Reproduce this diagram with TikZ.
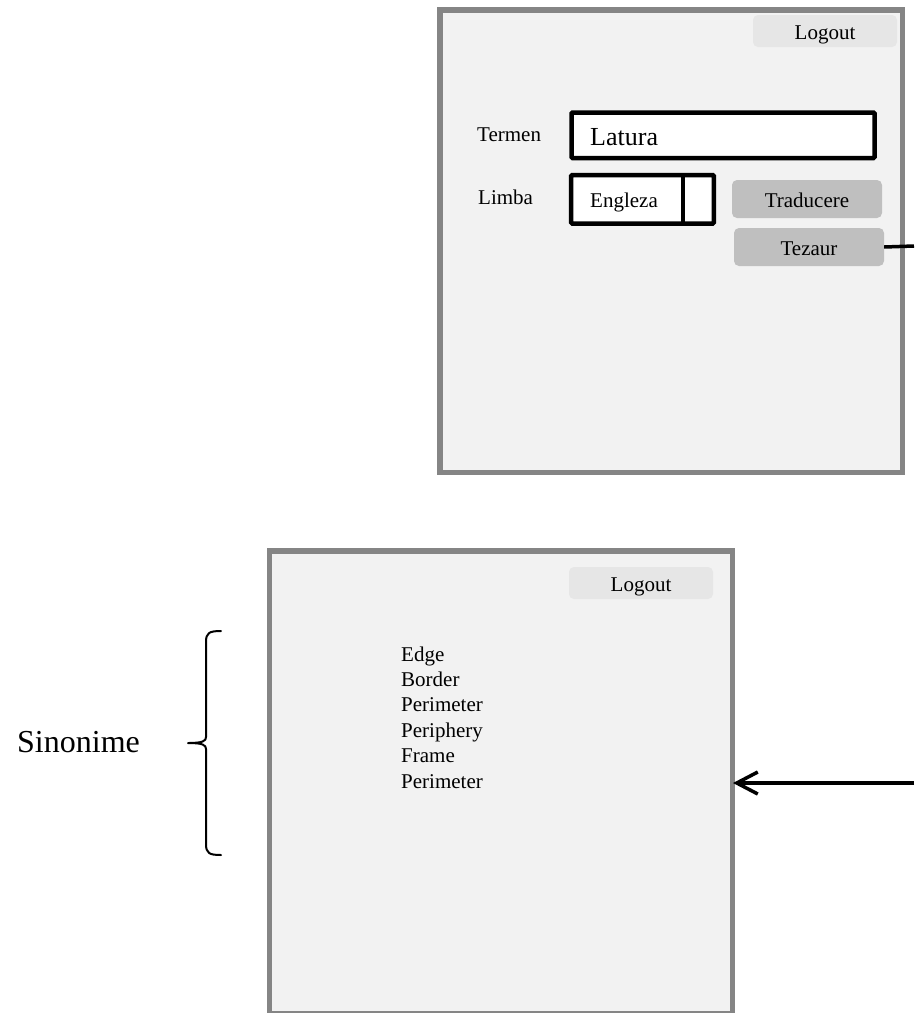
\documentclass[tikz,border=0pt]{standalone}
\usepackage{fontspec}
\setmainfont{Liberation Serif}
\usetikzlibrary{arrows.meta}
\definecolor{frameGray}{HTML}{858585}
\definecolor{paneFill}{HTML}{F2F2F2}
\definecolor{logoutFill}{HTML}{E6E6E6}
\definecolor{btnFill}{HTML}{BFBFBF}
\tikzset{
  window/.style={draw=frameGray, fill=paneFill, line width=5.5pt, inner sep=0pt, rectangle},
  btn/.style={rectangle, rounded corners=5pt, inner sep=0pt, text height=20pt, text depth=4pt,
              font=\fontsize{21}{25}\selectfont},
  logoutbtn/.style={btn, fill=logoutFill, minimum width=144pt, minimum height=32pt},
  actionbtn/.style={btn, fill=btnFill, minimum width=150pt, minimum height=38pt},
  field/.style={draw=black, fill=white, line width=4.5pt, rectangle, inner sep=0pt, rounded corners=1pt},
  txt/.style={inner sep=0pt, font=\fontsize{21}{25}\selectfont},
  link/.style={draw=black, line width=3.5pt},
}
\begin{document}
\begin{tikzpicture}[x=1pt, y=-1pt]
\useasboundingbox (0,0) rectangle (914,1013);

% ---- first screen: search form ----
\node[window, minimum width=462.5pt, minimum height=462.5pt] (win1) at (671.25,241.25) {};
\node[logoutbtn] (logout1) at (825,31) {Logout};

\node[txt, anchor=base west] (termenlbl) at (477,141.7) {Termen};
\node[field, minimum width=303pt, minimum height=45.5pt] (termbox) at (723,135.3) {};
\node[txt, anchor=base west, font=\fontsize{26}{30}\selectfont] (termval) at (590,145) {Latura};

\node[txt, anchor=base west] (limbalbl) at (478,204) {Limba};
\node[field, minimum width=142.6pt, minimum height=48.3pt] (langbox) at (642.5,199.35) {};
\draw[black, line width=4.5pt] (683,175.2) -- (683,223.5);
\node[txt, anchor=base] (langval) at (624,207) {Engleza};

\node[actionbtn] (traducere) at (807,199) {Traducere};
\node[actionbtn] (tezaur) at (809,247) {Tezaur};

\coordinate (tezOut) at (914,246);
\draw[link] (tezaur.east) -- (tezOut);

% ---- second screen: synonym list ----
\node[window, minimum width=463pt, minimum height=463pt] (win2) at (501,782.5) {};
\node[logoutbtn] (logout2) at (641,583) {Logout};

\foreach \w [count=\i from 0] in {Edge,Border,Perimeter,Periphery,Frame,Perimeter}{
  \node[txt, anchor=base west] (syn\i) at (401,661+25.4*\i) {\w};
}

% brace grouping the synonyms
\draw[line width=2pt, line cap=round, line join=round]
  (221,631) .. controls (209,631) and (206,633) .. (206,642) -- (206,737)
  .. controls (206,741) and (203,743) .. (188,743)
  .. controls (203,743) and (206,745) .. (206,749) -- (206,844)
  .. controls (206,853) and (209,855) .. (221,855);
\node[txt, anchor=base west, font=\fontsize{32}{36}\selectfont] (sinonime) at (17,752) {Sinonime};

\coordinate (arrowIn) at (914,783);
\coordinate (arrowTip) at (733,783);
\draw[link, -{Straight Barb[length=21pt,width=22pt,line width=3.5pt]}] (arrowIn) -- (arrowTip);
\end{tikzpicture}
\end{document}
